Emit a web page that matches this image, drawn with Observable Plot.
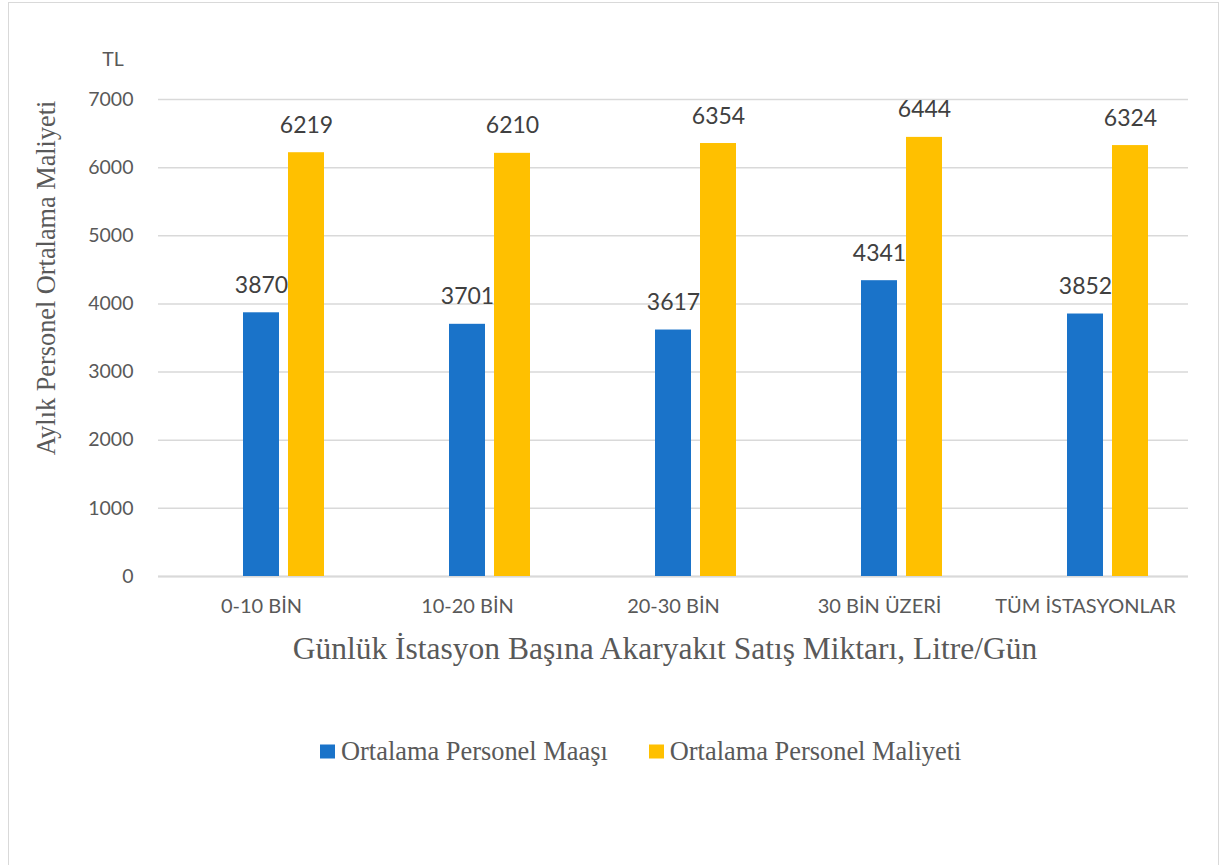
<!DOCTYPE html>
<html><head><meta charset="utf-8">
<script src="https://cdn.jsdelivr.net/npm/d3@7"></script>
<script src="https://cdn.jsdelivr.net/npm/@observablehq/plot@0.6"></script>
<style>
body{margin:0;background:#fff;width:1223px;height:865px;position:relative;overflow:hidden;}
#frame{position:absolute;left:8px;top:2px;width:1211px;height:870px;border:1.5px solid #d9d9d9;box-sizing:border-box;}
#chart{position:absolute;left:0;top:0;}
.lbl{position:absolute;white-space:nowrap;color:#595959;}
#tl{left:113px;top:58px;transform:translate(-50%,-50%);font-family:Lato,sans-serif;font-size:19.5px;}
#ytitle{left:47px;top:278px;transform:translate(-50%,-50%) rotate(-90deg);font-family:"Liberation Serif",serif;font-size:26.3px;}
#xtitle{left:665px;top:649px;transform:translate(-50%,-50%);font-family:"Liberation Serif",serif;font-size:31.5px;}
#legend{position:absolute;left:320px;top:751px;transform:translateY(-50%);display:flex;align-items:center;font-family:"Liberation Serif",serif;font-size:26.4px;color:#595959;white-space:nowrap;}
.sw{display:inline-block;width:15px;height:14px;margin-right:6px;}
.item{display:flex;align-items:center;margin-right:41px;}
</style>
</head><body>
<div id="frame"></div>
<div id="chart"></div>
<div class="lbl" id="tl"></div>
<div class="lbl" id="ytitle"></div>
<div class="lbl" id="xtitle"></div>
<div id="legend"></div>
<script>
const categories = ["0-10 BİN", "10-20 BİN", "20-30 BİN", "30 BİN ÜZERİ", "TÜM İSTASYONLAR"];
const seriesNames = ["Ortalama Personel Maaşı", "Ortalama Personel Maliyeti"];
const maas = [3870, 3701, 3617, 4341, 3852];
const maliyet = [6219, 6210, 6354, 6444, 6324];
const yTicks = [0, 1000, 2000, 3000, 4000, 5000, 6000, 7000];
const colors = ["#1a73c9", "#ffc000"];
const unitLabel = "TL";
const yTitle = "Aylık Personel Ortalama Maliyeti";
const xTitle = "Günlük İstasyon Başına Akaryakıt Satış Miktarı, Litre/Gün";

const rows = [];
categories.forEach((c, i) => {
  rows.push({category: c, series: seriesNames[0], value: maas[i]});
  rows.push({category: c, series: seriesNames[1], value: maliyet[i]});
});

const chart = Plot.plot({
  width: 1223,
  height: 640,
  marginLeft: 158,
  marginRight: 35,
  marginTop: 99,
  marginBottom: 64,
  style: {background: "transparent", overflow: "visible"},
  fx: {domain: categories, padding: 0, label: null},
  x: {domain: ["_gap", ...seriesNames], paddingInner: 0.21, paddingOuter: 0.85, axis: null},
  y: {domain: [0, 7000], ticks: yTicks, label: null},
  color: {domain: seriesNames, range: colors},
  marks: [
    Plot.gridY(yTicks, {stroke: "#d9d9d9", strokeOpacity: 1, strokeWidth: 1.5}),
    Plot.axisFx({anchor: "bottom", tickSize: 0, tickPadding: 22, fontSize: 20, fontFamily: "Lato, sans-serif", fill: "#595959", label: null}),
    Plot.axisY(yTicks, {tickSize: 0, tickPadding: 25, fontSize: 19.5, fontFamily: "Lato, sans-serif", fill: "#595959", tickFormat: d => String(d), label: null}),
    Plot.ruleY([0], {stroke: "#d9d9d9", strokeWidth: 2}),
    Plot.barY(rows, {fx: "category", x: "series", y: "value", fill: "series"}),
    Plot.text(rows, {fx: "category", x: "series", y: "value", text: d => String(d.value), lineAnchor: "bottom", dy: -20, fontSize: 23, fontFamily: "Lato, sans-serif", fill: "#404040"})
  ]
});
document.getElementById("chart").appendChild(chart);
document.getElementById("tl").textContent = unitLabel;
document.getElementById("ytitle").textContent = yTitle;
document.getElementById("xtitle").textContent = xTitle;
const legend = document.getElementById("legend");
seriesNames.forEach((s, i) => {
  const it = document.createElement("span");
  it.className = "item";
  const sw = document.createElement("span");
  sw.className = "sw";
  sw.style.background = colors[i];
  it.appendChild(sw);
  it.appendChild(document.createTextNode(s));
  legend.appendChild(it);
});
</script>
</body></html>
